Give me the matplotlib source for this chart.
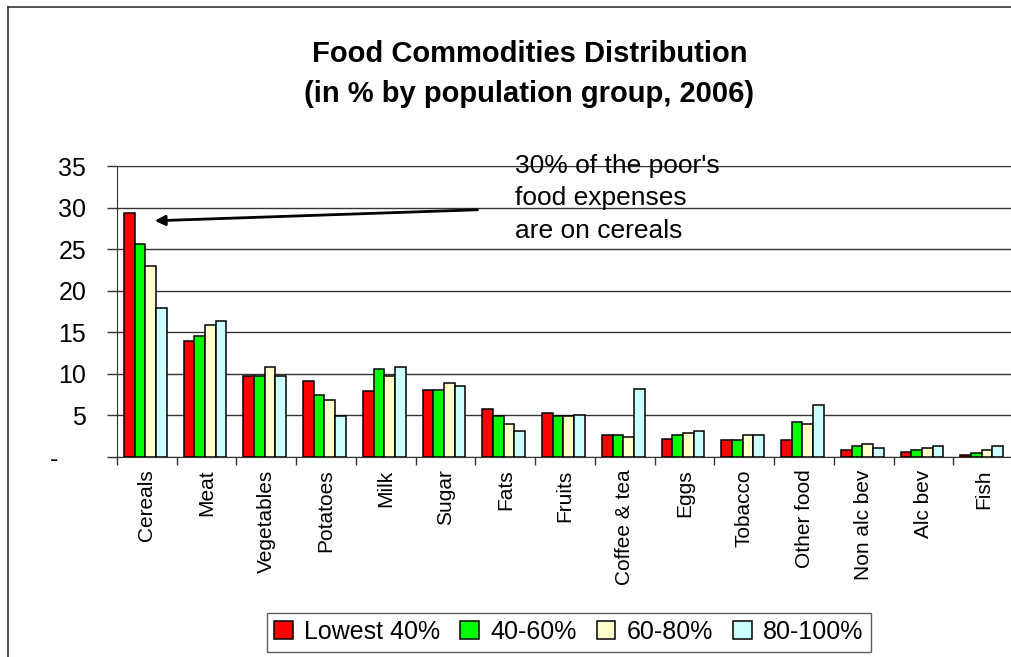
import matplotlib
matplotlib.use("Agg")
import matplotlib.pyplot as plt
from matplotlib.lines import Line2D
import numpy as np

plt.rcParams['font.family'] = ['Liberation Sans', 'DejaVu Sans']

categories = ["Cereals", "Meat", "Vegetables", "Potatoes", "Milk", "Sugar", "Fats",
              "Fruits", "Coffee & tea", "Eggs", "Tobacco", "Other food",
              "Non alc bev", "Alc bev", "Fish"]
lowest40 = [29.4, 13.9, 9.7, 9.1, 7.9, 8.0, 5.8, 5.3, 2.6, 2.2, 2.0, 2.0, 0.9, 0.65, 0.2]
p40_60 = [25.6, 14.6, 9.7, 7.5, 10.6, 8.0, 4.9, 4.9, 2.6, 2.6, 2.0, 4.2, 1.3, 0.9, 0.45]
p60_80 = [23.0, 15.9, 10.8, 6.9, 9.7, 8.9, 4.0, 4.9, 2.4, 2.9, 2.6, 4.0, 1.55, 1.1, 0.9]
p80_100 = [17.9, 16.3, 9.7, 4.9, 10.8, 8.5, 3.1, 5.1, 8.2, 3.1, 2.6, 6.2, 1.1, 1.3, 1.3]
series_names = ["Lowest 40%", "40-60%", "60-80%", "80-100%"]
colors = ["#FF0000", "#00FF00", "#FFFFCC", "#CCFFFF"]
yticks = [0, 5, 10, 15, 20, 25, 30, 35]
ytick_labels = ["-    ", "5", "10", "15", "20", "25", "30", "35"]

fig = plt.figure(figsize=(10.12, 6.57), dpi=100)
ax = fig.add_axes([0.1156, 0.3044, 0.8856, 0.4429])

n = len(categories)
x = np.arange(n)
w = 0.179
series = [lowest40, p40_60, p60_80, p80_100]
for i, (vals, c, name) in enumerate(zip(series, colors, series_names)):
    ax.bar(x + (i - 1.5) * w - 0.027, vals, width=w, color=c, edgecolor="black",
           linewidth=1.1, label=name, zorder=3)

ax.set_xlim(-0.5, n - 0.5)
ax.set_ylim(0, 35)
ax.set_yticks(yticks)
ax.set_yticklabels(ytick_labels, fontsize=18)
ax.yaxis.grid(True, color="#333333", linewidth=1.0, zorder=0)
ax.set_axisbelow(True)
ax.set_xticks(x)
ax.set_xticklabels(categories, rotation=90, fontsize=15, va="top")
ax.set_xticks(np.arange(-0.5, n, 1.0), minor=True)
ax.tick_params(axis="x", which="major", length=0, pad=9)
ax.tick_params(axis="x", which="minor", length=6, width=1.0, color="#333333", direction="out")
ax.tick_params(axis="y", length=7.2, width=1.0, color="#333333", direction="out", pad=15)
for s in ["top", "right"]:
    ax.spines[s].set_visible(False)
ax.spines["left"].set_color("#333333")
ax.spines["bottom"].set_color("#333333")

fig.text(0.523, 0.918, "Food Commodities Distribution", ha="center", va="center",
         fontsize=21, fontweight="bold")
fig.text(0.523, 0.857, "(in % by population group, 2006)", ha="center", va="center",
         fontsize=21, fontweight="bold")

ax.text(6.16, 31.1, "30% of the poor's\nfood expenses\nare on cereals", fontsize=19,
        ha="left", va="center", linespacing=1.45, zorder=5)
ax.annotate("", xy=(0.086, 28.4), xytext=(5.58, 29.75),
            arrowprops=dict(arrowstyle="-|>", color="black", lw=2.0,
                            mutation_scale=15), zorder=5)

# outer chart border
fig.add_artist(Line2D([0.008, 0.008], [-0.1, 0.9894], transform=fig.transFigure,
                      color="#333333", lw=1.2))
fig.add_artist(Line2D([0.008, 1.1], [0.9894, 0.9894], transform=fig.transFigure,
                      color="#333333", lw=1.2))

handles, labels = ax.get_legend_handles_labels()
leg = fig.legend(handles, labels, loc="center", bbox_to_anchor=(0.562, 0.038),
                 ncol=4, fontsize=18, frameon=True, fancybox=False,
                 edgecolor="#333333", handlelength=0.75, handleheight=0.75,
                 handletextpad=0.45, columnspacing=0.8, borderpad=0.3,
                 borderaxespad=0)
leg.get_frame().set_linewidth(1.0)

fig.savefig("out.png", dpi=100)
